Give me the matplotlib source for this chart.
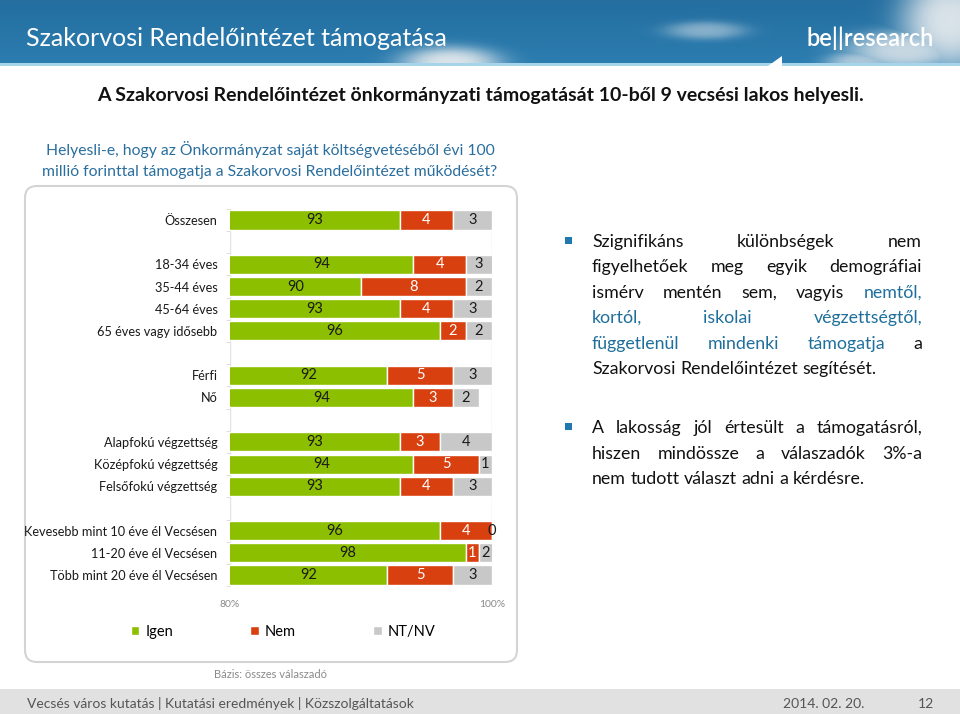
import numpy as np
import matplotlib
matplotlib.use("Agg")
import matplotlib.pyplot as plt
from matplotlib.patches import FancyBboxPatch, Rectangle, Polygon

plt.rcParams['font.family'] = ['Lato', 'DejaVu Sans']

# data
categories = ["Összesen", "",
              "18-34 éves", "35-44 éves", "45-64 éves", "65 éves vagy idősebb", "",
              "Férfi", "Nő", "",
              "Alapfokú végzettség", "Középfokú végzettség", "Felsőfokú végzettség", "",
              "Kevesebb mint 10 éve él Vecsésen", "11-20 éve él Vecsésen", "Több mint 20 éve él Vecsésen"]
igen = [93, None, 94, 90, 93, 96, None, 92, 94, None, 93, 94, 93, None, 96, 98, 92]
nem = [4, None, 4, 8, 4, 2, None, 5, 3, None, 3, 5, 4, None, 4, 1, 5]
ntnv = [3, None, 3, 2, 3, 2, None, 3, 2, None, 4, 1, 3, None, 0, 2, 3]
series_names = ["Igen", "Nem", "NT/NV"]
colors = ["#8cbf00", "#d9400f", "#c8c8c8"]
label_colors = ["#1a1a1a", "white", "#1a1a1a"]
xticks = [80, 100]
xticklabels = ["80%", "100%"]

W, H = 960, 714
fig = plt.figure(figsize=(W / 100, H / 100), dpi=100)

# background overlay in pixel coordinates
bg = fig.add_axes([0, 0, 1, 1], zorder=0)
bg.set_xlim(0, W)
bg.set_ylim(H, 0)
bg.axis("off")

# header band: sky with a few soft clouds
hh, ww = 63, W
yy_, xx_ = np.mgrid[0:hh, 0:ww]
top = np.array([0x24, 0x6e, 0xa0]) / 255
bot = np.array([0x2c, 0x7d, 0xb0]) / 255
t = (yy_ / hh)[..., None]
sky = top * (1 - t) + bot * t
cloud = np.array([0xe2, 0xe8, 0xec]) / 255
alpha = np.zeros((hh, ww))
for cx, cy, rx, ry, a in [(450, 62, 50, 16, 0.95), (705, 30, 40, 9, 0.5), (950, 20, 50, 50, 0.95),
                          (905, 50, 60, 20, 0.85), (860, 62, 35, 12, 0.7)]:
    alpha = np.maximum(alpha, a * np.exp(-(((xx_ - cx) / rx) ** 2 + ((yy_ - cy) / ry) ** 2) ** 1.5))
img = sky * (1 - alpha[..., None]) + cloud * alpha[..., None]
bg.imshow(img, extent=(0, W, 63, 0), aspect="auto", zorder=1, interpolation="bilinear")
bg.add_patch(Rectangle((0, 63), W, 3, color="#a6d4ea", lw=0, zorder=3))
bg.add_patch(Polygon([[768, 66], [782, 56], [782, 66]], closed=True, color="white", lw=0, zorder=4))
bg.text(26, 46, "Szakorvosi Rendelőintézet támogatása", color="white", fontsize=18,
        va="baseline", ha="left", zorder=5)
bg.text(934, 46, "be||research", color="white", fontsize=17, fontweight="semibold",
        va="baseline", ha="right", zorder=5)

# title and question
bg.text(480, 95, "A Szakorvosi Rendelőintézet önkormányzati támogatását 10-ből 9 vecsési lakos helyesli.",
        fontsize=14, fontweight="bold", ha="center", va="center", color="#111111")
bg.text(270, 150, "Helyesli-e, hogy az Önkormányzat saját költségvetéséből évi 100",
        fontsize=11.3, ha="center", va="center", color="#2a6e9e")
bg.text(270, 172, "millió forinttal támogatja a Szakorvosi Rendelőintézet működését?",
        fontsize=11.3, ha="center", va="center", color="#2a6e9e")

# rounded frame
bg.add_patch(FancyBboxPatch((25, 186), 492, 476, boxstyle="round,pad=0,rounding_size=12",
                            fill=False, edgecolor="#d4d4d4", lw=1.5, zorder=2))

bg.text(270, 675, "Bázis: összes válaszadó", fontsize=8, ha="center", va="center", color="#8a8a8a")

# footer
bg.add_patch(Rectangle((0, 689), W, 25, color="#e1e1e1", lw=0))
bg.text(27, 704, "Vecsés város kutatás | Kutatási eredmények | Közszolgáltatások",
        fontsize=10, ha="left", va="center", color="#555555")
bg.text(864, 704, "2014. 02. 20.", fontsize=10, ha="right", va="center", color="#555555")
bg.text(934, 704, "12", fontsize=10, ha="right", va="center", color="#555555")

# chart
ax = fig.add_axes([230 / W, 1 - 586.1 / H, 262 / W, (586.1 - 208.9) / H], zorder=2)
ax.patch.set_alpha(0)
y = np.arange(len(categories))
idx = [i for i, c in enumerate(categories) if c]
vals = [np.array([s[i] for i in idx], dtype=float) for s in (igen, nem, ntnv)]
left = np.zeros(len(idx))
for k, v in enumerate(vals):
    ax.barh(y[idx], v, left=left, height=0.86, color=colors[k], edgecolor="white",
            linewidth=1, label=series_names[k], zorder=3)
    for yy, l, w in zip(y[idx], left, v):
        x0 = max(l, 80)
        x1 = min(l + w, 100)
        ax.text((x0 + x1) / 2, yy, f"{int(w)}", ha="center", va="center", fontsize=10.5,
                color=label_colors[k], zorder=4, clip_on=False)
    left = left + v
ax.set_xlim(80, 100)
ax.set_ylim(len(categories) - 0.5, -0.5)
ax.set_yticks(y)
ax.set_yticklabels(categories, fontsize=9.2, color="#1a1a1a")
ax.set_yticks(np.arange(len(categories) + 1) - 0.5, minor=True)
ax.tick_params(axis="y", which="major", length=0, pad=9)
ax.tick_params(axis="y", which="minor", length=3, color="#d9d9d9", direction="out")
ax.set_xticks(xticks)
ax.set_xticklabels(xticklabels, fontsize=7.5, color="#8a8a8a")
ax.tick_params(axis="x", length=0, pad=10)
ax.grid(axis="x", color="#e3e3e3", lw=1, zorder=0)
for s in ["top", "right", "bottom", "left"]:
    ax.spines[s].set_visible(False)

h, l = ax.get_legend_handles_labels()
fig.legend(h, l, loc="center", bbox_to_anchor=(283 / W, 1 - 632 / H), ncol=3, frameon=False,
           fontsize=10.5, handlelength=0.6, handleheight=0.6, handletextpad=0.4, columnspacing=5.3)

# right-hand text, justified
fig.canvas.draw()
renderer = fig.canvas.get_renderer()
blue = "#1f6f9c"
black = "#111111"
paragraphs = [
    [([("Szignifikáns", black), ("különbségek", black), ("nem", black)], True, 242),
     ([("figyelhetőek", black), ("meg", black), ("egyik", black), ("demográfiai", black)], True, 267),
     ([("ismérv", black), ("mentén", black), ("sem,", black), ("vagyis", black), ("nemtől,", blue)], True, 293),
     ([("kortól,", blue), ("iskolai", blue), ("végzettségtől,", blue)], True, 318),
     ([("függetlenül", blue), ("mindenki", blue), ("támogatja", blue), ("a", black)], True, 344),
     ([("Szakorvosi", black), ("Rendelőintézet", black), ("segítését.", black)], False, 369)],
    [([("A", black), ("lakosság", black), ("jól", black), ("értesült", black), ("a", black), ("támogatásról,", black)], True, 428),
     ([("hiszen", black), ("mindössze", black), ("a", black), ("válaszadók", black), ("3%-a", black)], True, 454),
     ([("nem", black), ("tudott", black), ("választ", black), ("adni", black), ("a", black), ("kérdésre.", black)], False, 479)],
]
x_start, x_end = 592, 922
fs = 12.8
sp = bg.text(0, 0, "a a", fontsize=fs)
one = bg.text(0, 0, "a", fontsize=fs)
sp_w = sp.get_window_extent(renderer).width - 2 * one.get_window_extent(renderer).width
sp.remove()
one.remove()
for para in paragraphs:
    bg.add_patch(Rectangle((565, para[0][2] - 5), 7, 7, color="#1f78b0", lw=0))
    for words, justify, yy in para:
        arts = [bg.text(0, yy, w, color=c, fontsize=fs, ha="left", va="center") for w, c in words]
        widths = [a.get_window_extent(renderer).width for a in arts]
        if justify and len(words) > 1:
            gap = (x_end - x_start - sum(widths)) / (len(words) - 1)
        else:
            gap = sp_w
        x = x_start
        for a, w in zip(arts, widths):
            a.set_x(x)
            x += w + gap

fig.savefig("out.png", dpi=100)
